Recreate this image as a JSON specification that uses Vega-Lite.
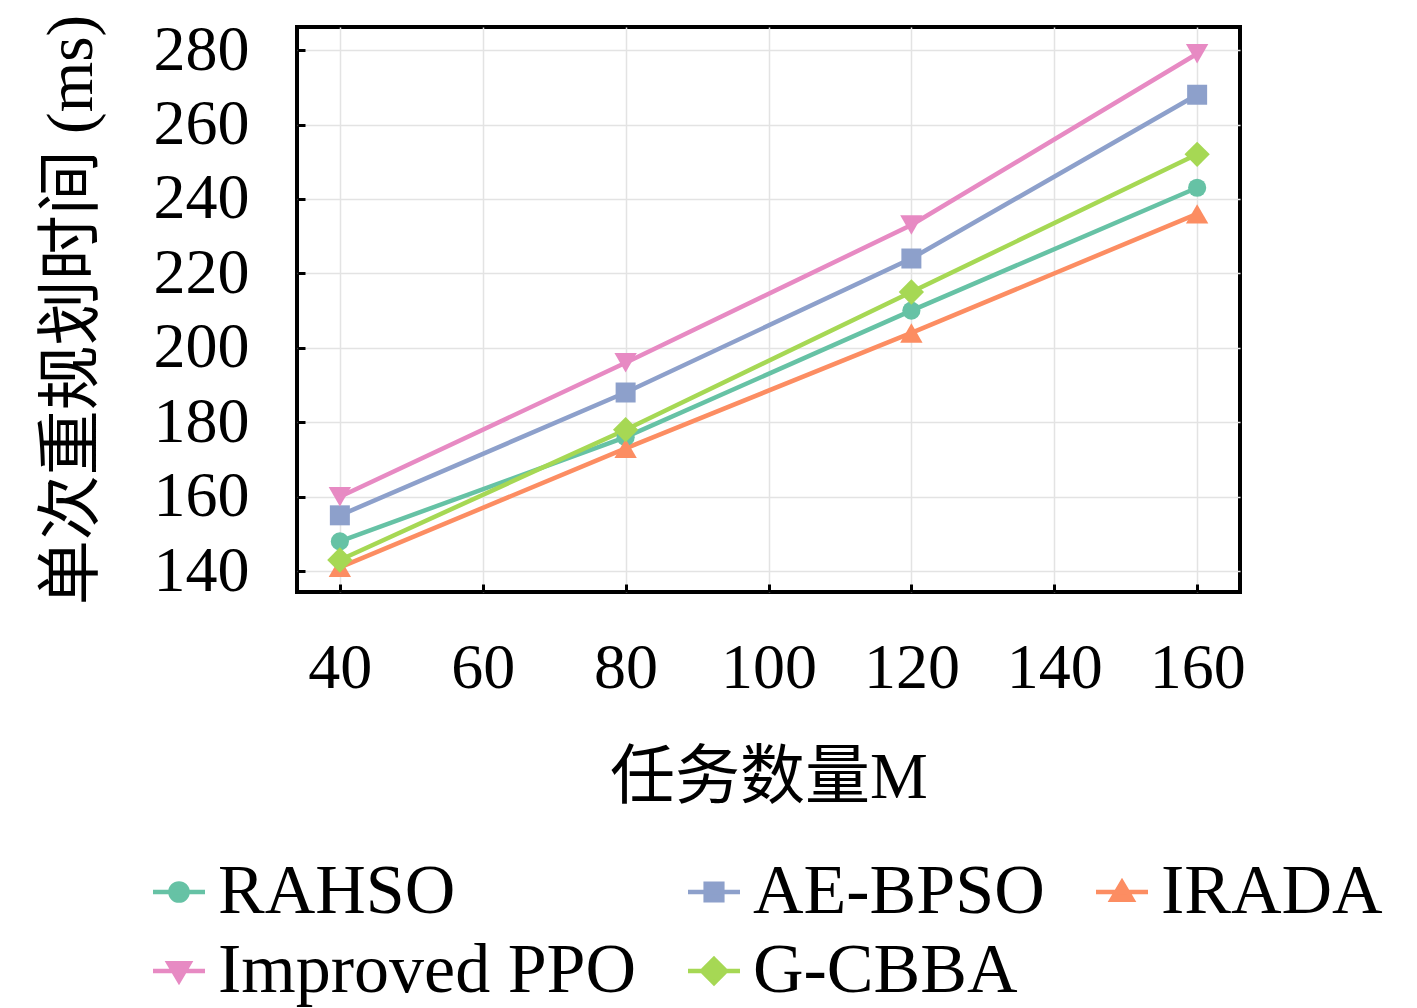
{
  "$schema": "https://vega.github.io/schema/vega-lite/v6.json",
  "width": 943,
  "height": 565,
  "autosize": "none",
  "padding": {"left": 297, "top": 27, "right": 177, "bottom": 416},
  "background": "white",
  "config": {
    "font": "Liberation Serif, Noto Sans CJK SC",
    "view": {"stroke": "black", "strokeWidth": 4},
    "axis": {
      "labelFont": "Liberation Serif, Noto Sans CJK SC",
      "titleFont": "Liberation Serif, Noto Sans CJK SC",
      "labelFontSize": 64,
      "titleFontSize": 65,
      "titleFontWeight": "normal",
      "labelColor": "black",
      "titleColor": "black",
      "domain": false,
      "grid": true,
      "gridColor": "#e3e3e3",
      "gridWidth": 1.5,
      "tickColor": "black",
      "tickWidth": 3,
      "tickSize": -8
    }
  },
  "data": {
    "values": [
      {"M": 40, "time": 148, "method": "RAHSO"},
      {"M": 80, "time": 176, "method": "RAHSO"},
      {"M": 120, "time": 210, "method": "RAHSO"},
      {"M": 160, "time": 243, "method": "RAHSO"},
      {"M": 40, "time": 155, "method": "AE-BPSO"},
      {"M": 80, "time": 188, "method": "AE-BPSO"},
      {"M": 120, "time": 224, "method": "AE-BPSO"},
      {"M": 160, "time": 268, "method": "AE-BPSO"},
      {"M": 40, "time": 141, "method": "IRADA"},
      {"M": 80, "time": 173, "method": "IRADA"},
      {"M": 120, "time": 204, "method": "IRADA"},
      {"M": 160, "time": 236, "method": "IRADA"},
      {"M": 40, "time": 160, "method": "Improved PPO"},
      {"M": 80, "time": 196, "method": "Improved PPO"},
      {"M": 120, "time": 233, "method": "Improved PPO"},
      {"M": 160, "time": 279, "method": "Improved PPO"},
      {"M": 40, "time": 143, "method": "G-CBBA"},
      {"M": 80, "time": 178, "method": "G-CBBA"},
      {"M": 120, "time": 215, "method": "G-CBBA"},
      {"M": 160, "time": 252, "method": "G-CBBA"}
    ]
  },
  "encoding": {
    "x": {
      "field": "M",
      "type": "quantitative",
      "title": "任务数量M",
      "scale": {"domain": [34, 166], "nice": false, "zero": false},
      "axis": {"values": [40, 60, 80, 100, 120, 140, 160], "labelPadding": 52, "titlePadding": 46}
    },
    "y": {
      "field": "time",
      "type": "quantitative",
      "title": "单次重规划时间 (ms)",
      "scale": {"domain": [134.4, 286.2], "nice": false, "zero": false},
      "axis": {"values": [140, 160, 180, 200, 220, 240, 260, 280], "labelPadding": 56, "titlePadding": 48}
    },
    "color": {
      "field": "method",
      "type": "nominal",
      "scale": {
        "domain": ["RAHSO", "AE-BPSO", "IRADA", "Improved PPO", "G-CBBA"],
        "range": ["#66c2a5", "#8da0cb", "#fc8d62", "#e78ac3", "#a6d854"]
      },
      "legend": {
        "title": null,
        "orient": "none",
        "direction": "horizontal",
        "legendX": -153,
        "legendY": 830,
        "columns": 3,
        "columnPadding": 42,
        "rowPadding": 9,
        "padding": 0,
        "symbolSize": 2704,
        "labelFontSize": 70,
        "labelOffset": 4,
        "labelLimit": 0,
        "labelColor": "black",
        "labelFont": "Liberation Serif",
        "encode": {
          "symbols": {
            "update": {
              "shape": {"signal": "datum.value === 'RAHSO' ? 'M-1,0L1,0M0.33,0A0.33,0.33,0,1,1,-0.33,0A0.33,0.33,0,1,1,0.33,0Z' : datum.value === 'AE-BPSO' ? 'M-1,0L1,0M-0.32,-0.32L0.32,-0.32L0.32,0.32L-0.32,0.32Z' : datum.value === 'IRADA' ? 'M-1,0L1,0M0,-0.38L0.4,0.3L-0.4,0.3Z' : datum.value === 'Improved PPO' ? 'M-1,0L1,0M0,0.38L0.4,-0.3L-0.4,-0.3Z' : 'M-1,0L1,0M0,-0.46L0.46,0L0,0.46L-0.46,0Z'"},
              "stroke": {"scale": "color", "field": "value"},
              "fill": {"scale": "color", "field": "value"},
              "size": {"value": 2704},
              "strokeWidth": {"value": 4.5},
              "opacity": {"value": 1}
            }
          }
        }
      }
    }
  },
  "layer": [
    {
      "mark": {"type": "line", "strokeWidth": 4.5}
    },
    {
      "mark": {"type": "point", "filled": true, "opacity": 1},
      "encoding": {
        "shape": {
          "condition": [
            {"test": "datum.method === 'RAHSO'", "value": "circle"},
            {"test": "datum.method === 'AE-BPSO'", "value": "square"},
            {"test": "datum.method === 'IRADA'", "value": "triangle-up"},
            {"test": "datum.method === 'Improved PPO'", "value": "triangle-down"}
          ],
          "value": "diamond"
        },
        "size": {
          "condition": [
            {"test": "datum.method === 'RAHSO'", "value": 330},
            {"test": "datum.method === 'AE-BPSO'", "value": 400},
            {"test": "datum.method === 'IRADA'", "value": 500},
            {"test": "datum.method === 'Improved PPO'", "value": 500}
          ],
          "value": 640
        }
      }
    }
  ]
}
